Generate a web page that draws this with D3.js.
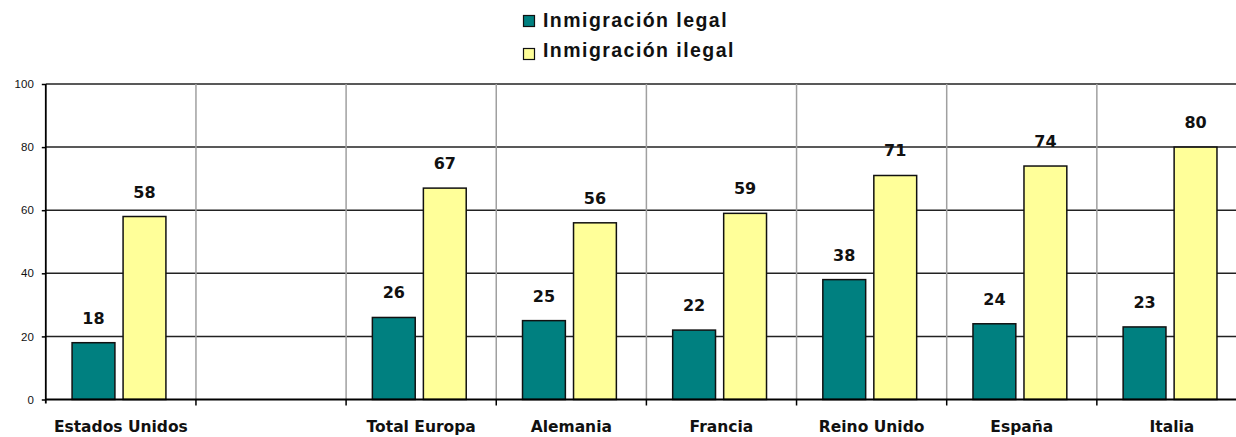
<!DOCTYPE html>
<html>
<head>
<meta charset="utf-8">
<script src="https://cdn.jsdelivr.net/npm/d3@7"></script>
<style>
  html, body { margin: 0; padding: 0; background: #fff; }
  svg { display: block; }
</style>
</head>
<body>
<svg id="chart" width="1236" height="437"></svg>
<script>
const categories = ["Estados Unidos", "", "Total Europa", "Alemania", "Francia", "Reino Unido", "España", "Italia"];
const legalValues   = [18, null, 26, 25, 22, 38, 24, 23];
const illegalValues = [58, null, 67, 56, 59, 71, 74, 80];
const seriesNames = ["Inmigración legal", "Inmigración ilegal"];
const seriesColors = ["#008080", "#FFFF99"];
const yTicks = [0, 20, 40, 60, 80, 100];

(function () {
const svg = d3.select("#chart");
const pLeft = 45.8, pRight = 1247, pTop = 84, pBottom = 399.5;

const keys = categories.map((c, i) => "c" + i);
const x = d3.scaleBand().domain(keys).range([pLeft, pRight]).padding(0);
const bw = x.bandwidth();
const x1 = d3.scaleBand().domain([0, 1]).range([bw * 0.175, bw * 0.80]).paddingInner(0.16);
const y = d3.scaleLinear().domain([0, 100]).range([pBottom, pTop]);

// horizontal gridlines
svg.append("g").selectAll("line").data(yTicks.filter(t => t > 0)).join("line")
  .attr("x1", pLeft).attr("x2", pRight)
  .attr("y1", d => y(d)).attr("y2", d => y(d))
  .attr("stroke", "#222").attr("stroke-width", 1.5);

// vertical gridlines (category boundaries)
svg.append("g").selectAll("line").data(keys.slice(1)).join("line")
  .attr("x1", d => x(d)).attr("x2", d => x(d))
  .attr("y1", pTop).attr("y2", pBottom)
  .attr("stroke", "#a0a0a0").attr("stroke-width", 1.5);

// bars
const rows = [];
categories.forEach((c, i) => {
  [legalValues[i], illegalValues[i]].forEach((v, s) => {
    if (v !== null) rows.push({ key: keys[i], s, v });
  });
});
svg.append("g").selectAll("rect").data(rows).join("rect")
  .attr("x", d => x(d.key) + x1(d.s))
  .attr("width", x1.bandwidth())
  .attr("y", d => y(d.v))
  .attr("height", d => y(0) - y(d.v))
  .attr("fill", d => seriesColors[d.s])
  .attr("stroke", "#111").attr("stroke-width", 1.5);

// data labels
svg.append("g").selectAll("text").data(rows).join("text")
  .attr("x", d => x(d.key) + x1(d.s) + x1.bandwidth() / 2)
  .attr("y", d => y(d.v) - 19)
  .attr("text-anchor", "middle")
  .attr("font-family", "DejaVu Sans")
  .attr("font-weight", "bold")
  .attr("font-size", 16)
  .attr("fill", "#111")
  .text(d => d.v);

// y axis
const yAxis = d3.axisLeft(y).tickValues(yTicks).tickSize(4).tickPadding(8);
const gy = svg.append("g").attr("transform", `translate(${pLeft},0)`).call(yAxis);
gy.select(".domain").remove();
gy.selectAll(".tick line").attr("stroke", "#000").attr("stroke-width", 1.5);
gy.selectAll(".tick text")
  .attr("font-family", "Liberation Sans, Arial, sans-serif")
  .attr("font-size", 11.5).attr("fill", "#111");
svg.append("line").attr("x1", pLeft).attr("x2", pLeft).attr("y1", pTop).attr("y2", pBottom + 4)
  .attr("stroke", "#000").attr("stroke-width", 1.8);

// x axis
svg.append("line").attr("x1", pLeft).attr("x2", pRight).attr("y1", pBottom).attr("y2", pBottom)
  .attr("stroke", "#000").attr("stroke-width", 1.8);
svg.append("g").selectAll("line").data(keys.slice(1)).join("line")
  .attr("x1", d => x(d)).attr("x2", d => x(d))
  .attr("y1", pBottom).attr("y2", pBottom + 6)
  .attr("stroke", "#000").attr("stroke-width", 1.5);
svg.append("g").selectAll("text").data(keys).join("text")
  .attr("x", d => x(d) + bw / 2)
  .attr("y", 432)
  .attr("text-anchor", "middle")
  .attr("font-family", "DejaVu Sans")
  .attr("font-weight", "bold")
  .attr("font-size", 15.5)
  .attr("fill", "#111")
  .text((d, i) => categories[i]);

// legend
const lg = svg.append("g");
seriesNames.forEach((name, i) => {
  lg.append("rect").attr("x", 523.5).attr("y", 15.5 + i * 33).attr("width", 11).attr("height", 11)
    .attr("fill", seriesColors[i]).attr("stroke", "#111").attr("stroke-width", 1.2);
  lg.append("text").attr("x", 543).attr("y", 27 + i * 30)
    .attr("font-family", "Liberation Sans, Arial, sans-serif")
    .attr("font-weight", "bold").attr("font-size", 19.5)
    .attr("letter-spacing", 1.45)
    .attr("fill", "#111")
    .text(name);
});
})();
</script>
</body>
</html>
